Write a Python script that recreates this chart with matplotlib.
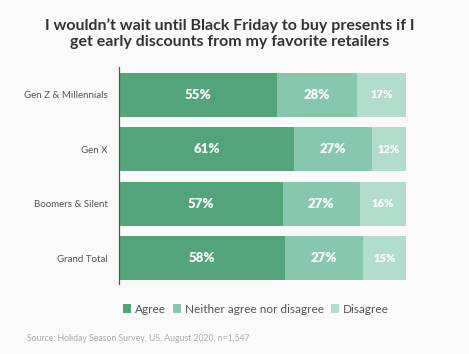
import matplotlib
matplotlib.use("Agg")
import matplotlib.pyplot as plt

# ------ data ----------------------------------
groups = ["Gen Z & Millennials", "Gen X", "Boomers & Silent", "Grand Total"]
agree = [55, 61, 57, 58]
neither = [28, 27, 27, 27]
disagree = [17, 12, 16, 15]
series_names = ["Agree", "Neither agree nor disagree", "Disagree"]
colours = ["#53a47a", "#87c7ae", "#b2dccb"]

title = "I wouldn\u2019t wait until Black Friday to buy presents if I\nget early discounts from my favorite retailers"
source = "Source: Holiday Season Survey, US, August 2020, n=1,547"

# ------ plot ----------------------------------
plt.rcParams['font.family'] = ['Lato', 'DejaVu Sans']

fig = plt.figure(figsize=(4.69, 3.54), dpi=100)
fig.patch.set_facecolor("#fafafa")
ax = fig.add_axes([0.2537, 0.1977, 0.612, 0.613])
ax.set_facecolor("#fafafa")

ypos = list(range(len(groups)))
left = [0] * len(groups)
sizes = [9.5, 9.5, 8]
for vals, name, col, fs in zip([agree, neither, disagree], series_names, colours, sizes):
    bars = ax.barh(ypos, vals, left=left, height=0.81, color=col, label=name)
    for b, v in zip(bars, vals):
        ax.text(b.get_x() + b.get_width() / 2, b.get_y() + b.get_height() / 2,
                f"{v}%", ha="center", va="center", color="white",
                fontsize=fs, fontweight="heavy")
    left = [l + v for l, v in zip(left, vals)]

ax.set_xlim(0, 100)
ax.set_ylim(3.47, -0.51)
ax.set_yticks(ypos)
ax.set_yticklabels(groups, fontsize=7, color="#555555")
ax.tick_params(axis="y", length=0, pad=8)
ax.set_xticks([])
for s in ["top", "right", "bottom"]:
    ax.spines[s].set_visible(False)
ax.spines["left"].set_color("#555555")
ax.spines["left"].set_linewidth(0.9)

fig.text(0.49, 0.905, title, ha="center", va="center", fontsize=11.5,
         fontweight="bold", color="#333333", linespacing=1.25)

fig.legend(loc="center", bbox_to_anchor=(0.545, 0.127), ncol=3, frameon=False,
           fontsize=8.5, handlelength=0.7, handleheight=0.7, handletextpad=0.3,
           columnspacing=0.6, labelcolor="#555555")

fig.text(0.058, 0.045, source, fontsize=6.2, color="#aaaaaa", ha="left", va="center")

plt.savefig("out.png", dpi=100, facecolor=fig.get_facecolor())
